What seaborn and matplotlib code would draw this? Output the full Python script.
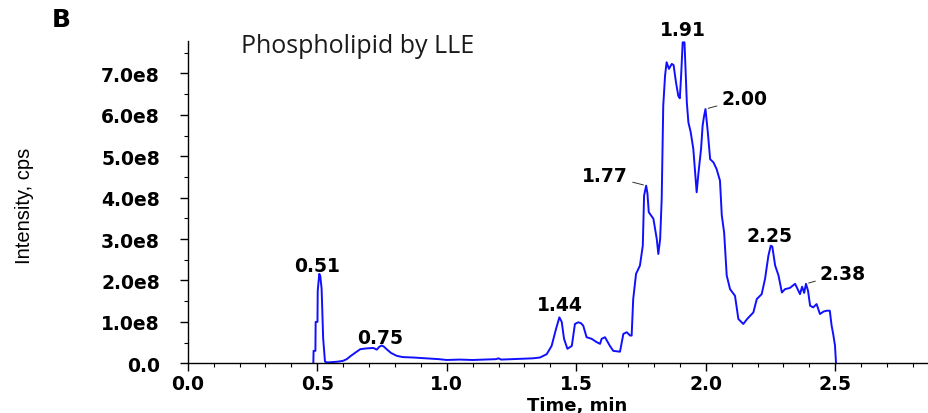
import numpy as np
import matplotlib
matplotlib.use("Agg")
import matplotlib.pyplot as plt
from matplotlib.ticker import MultipleLocator, FuncFormatter
import seaborn as sns

# ---- data (time in min, intensity in units of 1e8 cps) ----
time_min = [0.485, 0.486, 0.493, 0.494, 0.501, 0.502, 0.508, 0.512, 0.517, 0.523,
            0.530, 0.540, 0.560, 0.580, 0.600, 0.614, 0.630, 0.650, 0.666, 0.690,
            0.717, 0.730, 0.740, 0.749, 0.758, 0.768, 0.785, 0.807, 0.830, 0.870,
            0.920, 0.970, 1.000, 1.050, 1.100, 1.150, 1.190, 1.200, 1.210, 1.250,
            1.300, 1.333, 1.360, 1.386, 1.405, 1.422, 1.435, 1.444, 1.453, 1.466,
            1.483, 1.495, 1.508, 1.518, 1.527, 1.540, 1.560, 1.579, 1.592, 1.598,
            1.611, 1.630, 1.643, 1.669, 1.682, 1.695, 1.708, 1.714, 1.720, 1.731,
            1.746, 1.757, 1.762, 1.770, 1.775, 1.780, 1.798, 1.811, 1.817, 1.824,
            1.830, 1.836, 1.843, 1.849, 1.858, 1.869, 1.876, 1.885, 1.894, 1.900,
            1.905, 1.911, 1.918, 1.927, 1.933, 1.942, 1.952, 1.959, 1.965, 1.972,
            1.982, 1.988, 1.993, 1.999, 2.008, 2.017, 2.030, 2.042, 2.055, 2.062,
            2.071, 2.081, 2.094, 2.113, 2.126, 2.145, 2.160, 2.184, 2.197, 2.216,
            2.229, 2.242, 2.251, 2.257, 2.268, 2.281, 2.294, 2.306, 2.325, 2.345,
            2.355, 2.364, 2.372, 2.380, 2.387, 2.395, 2.403, 2.415, 2.428, 2.441,
            2.455, 2.467, 2.479, 2.486, 2.492, 2.499, 2.503]
intensity_e8 = [0.00, 0.30, 0.30, 1.00, 1.00, 1.75, 2.16, 2.10, 1.80, 0.60,
                0.04, 0.02, 0.03, 0.04, 0.06, 0.10, 0.18, 0.27, 0.34, 0.36,
                0.37, 0.33, 0.40, 0.43, 0.40, 0.34, 0.25, 0.18, 0.15, 0.14,
                0.12, 0.10, 0.08, 0.09, 0.08, 0.09, 0.10, 0.12, 0.09, 0.10,
                0.11, 0.12, 0.14, 0.22, 0.42, 0.83, 1.11, 1.00, 0.59, 0.35,
                0.42, 0.95, 0.99, 0.97, 0.91, 0.63, 0.59, 0.51, 0.47, 0.59,
                0.63, 0.42, 0.30, 0.28, 0.71, 0.75, 0.67, 0.67, 1.55, 2.16,
                2.36, 2.84, 4.05, 4.29, 4.10, 3.65, 3.49, 3.00, 2.64, 3.00,
                3.97, 6.22, 6.95, 7.27, 7.11, 7.23, 7.20, 6.79, 6.46, 6.40,
                6.95, 7.75, 7.75, 6.30, 5.82, 5.58, 5.18, 4.61, 4.13, 4.60,
                5.18, 5.74, 5.95, 6.14, 5.58, 4.93, 4.85, 4.69, 4.41, 3.57,
                3.16, 2.12, 1.79, 1.63, 1.07, 0.95, 1.07, 1.23, 1.55, 1.67,
                2.04, 2.60, 2.84, 2.82, 2.36, 2.12, 1.71, 1.79, 1.82, 1.92,
                1.79, 1.67, 1.85, 1.70, 1.92, 1.75, 1.39, 1.35, 1.43, 1.19,
                1.25, 1.27, 1.27, 0.91, 0.71, 0.43, 0.00]
peak_labels = ["0.51", "0.75", "1.44", "1.77", "1.91", "2.00", "2.25", "2.38"]
x_ticks = [0.0, 0.5, 1.0, 1.5, 2.0, 2.5]
y_ticks_e8 = [0, 1, 2, 3, 4, 5, 6, 7]
title_text = "Phospholipid by LLE"
panel_letter = "B"
x_label = "Time, min"
y_label = "Intensity, cps"

# ---- styling ----
sns.set_style("ticks")
plt.rcParams["font.family"] = ["DejaVu Sans"]

t = np.array(time_min)
y = np.array(intensity_e8) * 1e8

fig = plt.figure(figsize=(9.29, 4.14), dpi=100)
ax = fig.add_axes([187.7 / 929, 1 - 364.3 / 414, 1 - 187.7 / 929, (364.3 - 41.7) / 414])

sns.lineplot(x=t, y=y, ax=ax, color="#1010ff", lw=1.4, sort=False, estimator=None)

ax.set_xlim(0, 2.862)
ax.set_ylim(0, 7.79e8)
ax.set_xticks(x_ticks)
ax.set_yticks([v * 1e8 for v in y_ticks_e8])
ax.xaxis.set_minor_locator(MultipleLocator(0.1))
ax.yaxis.set_minor_locator(MultipleLocator(0.5e8))
ax.xaxis.set_major_formatter(FuncFormatter(lambda v, p: f"{v:.1f}"))
ax.yaxis.set_major_formatter(FuncFormatter(lambda v, p: "0.0" if v == 0 else f"{v / 1e8:.1f}e8"))
sns.despine(ax=ax, top=True, right=True)
for s in ("left", "bottom"):
    ax.spines[s].set_linewidth(1.0)
    ax.spines[s].set_color("black")
ax.tick_params(axis="both", which="major", direction="out", length=6, width=1.0,
               color="black", labelsize=13.5, labelcolor="black", pad=2)
ax.tick_params(axis="both", which="minor", direction="out", length=3, width=0.8, color="black")
for lab in ax.get_xticklabels() + ax.get_yticklabels():
    lab.set_fontweight("bold")
ax.tick_params(axis="y", which="major", pad=14)

ax.set_xlabel(x_label, fontsize=13, fontweight="bold", color="black")
ax.xaxis.set_label_coords((577 - 187.7) / (929 - 187.7), -0.13)
ax.xaxis.label.set_va("center")
ax.set_ylabel(y_label, fontsize=14.5, color="black",
              family=["Liberation Sans", "DejaVu Sans"])
ax.yaxis.set_label_coords((25 - 187.7) / (929 - 187.7), (364.3 - 206) / (364.3 - 41.7))
ax.yaxis.label.set_va("center")

# peak annotations (offsets in pixels relative to local maximum)
label_style = {
    "0.51": (-2, 3, "center", False),
    "0.75": (-2, 2, "center", False),
    "1.44": (0, 7, "center", False),
    "1.77": (-18, 5, "right", True),
    "1.91": (0, 7, "center", False),
    "2.00": (16, 5, "left", True),
    "2.25": (-1, 5, "center", False),
    "2.38": (14, 5, "left", True),
}
for lab in peak_labels:
    tc = float(lab)
    m = (t > tc - 0.025) & (t < tc + 0.025)
    idx = np.where(m)[0][np.argmax(y[m])]
    dx, dy, ha, leader = label_style[lab]
    kw = dict(arrowprops=dict(arrowstyle="-", color="#303030", lw=0.7, shrinkA=1, shrinkB=2)) if leader else {}
    ax.annotate(lab, xy=(t[idx], y[idx]), xytext=(dx, dy), textcoords="offset pixels",
                ha=ha, va="baseline", fontsize=13.5, fontweight="bold", color="black", **kw)

fig.text(241 / 929, 1 - 53 / 414, title_text, fontsize=18, color="#1a1a1a",
         family=["Open Sans", "DejaVu Sans"], ha="left", va="baseline")
fig.text(52 / 929, 1 - 27 / 414, panel_letter, fontsize=18, fontweight="bold",
         color="black", ha="left", va="baseline")

fig.savefig("out.png", dpi=100)
